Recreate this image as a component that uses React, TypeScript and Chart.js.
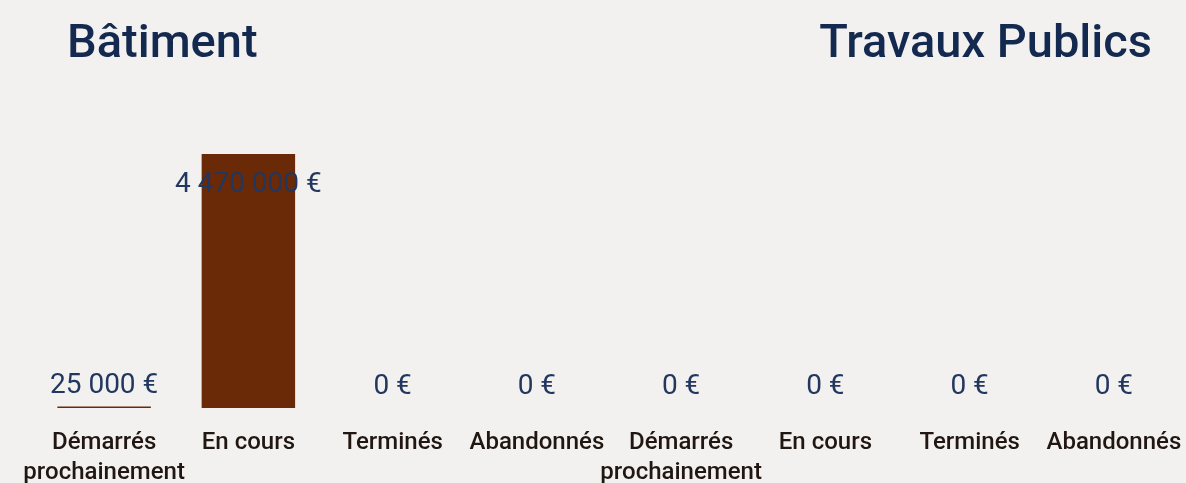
import React, { useEffect, useRef } from 'react';
import { Chart, registerables } from 'chart.js';

Chart.register(...registerables);

const categories: (string | string[])[] = [
  ['Démarrés', 'prochainement'],
  'En cours',
  'Terminés',
  'Abandonnés',
  ['Démarrés', 'prochainement'],
  'En cours',
  'Terminés',
  'Abandonnés',
];
const values = [25000, 4470000, 0, 0, 0, 0, 0, 0];
const groupTitles = ['Bâtiment', 'Travaux Publics'];

const BG = '#f3f1ef';
const BAR = '#6a2a07';
const TITLE = '#14294f';
const VALUE = '#22375f';
const TICK = '#211712';

function fmt(v: number): string {
  const s = Math.round(v).toString();
  const parts: string[] = [];
  for (let i = s.length; i > 0; i -= 3) parts.unshift(s.substring(Math.max(0, i - 3), i));
  return parts.join(' ') + ' €';
}

const decorPlugin = {
  id: 'decor',
  beforeDraw(chart: any) {
    const { ctx, width, height } = chart;
    ctx.save();
    ctx.fillStyle = BG;
    ctx.fillRect(0, 0, width, height);
    ctx.fillStyle = TITLE;
    ctx.font = '500 47px Roboto';
    ctx.textBaseline = 'alphabetic';
    ctx.textAlign = 'left';
    ctx.fillText(groupTitles[0], 67, 57);
    ctx.textAlign = 'right';
    ctx.fillText(groupTitles[1], 1152, 57);
    ctx.restore();
  },
  afterDatasetsDraw(chart: any) {
    const { ctx, chartArea } = chart;
    const meta = chart.getDatasetMeta(0);
    ctx.save();
    ctx.fillStyle = VALUE;
    ctx.font = '400 28px Roboto';
    ctx.textAlign = 'center';
    ctx.textBaseline = 'middle';
    meta.data.forEach((bar: any, i: number) => {
      let y = bar.y - 21;
      if (y < chartArea.top + 10) y = bar.y + 31;
      ctx.fillText(fmt(values[i]), bar.x, y);
    });
    ctx.restore();
  },
};

export default function App() {
  const ref = useRef<HTMLCanvasElement>(null);
  useEffect(() => {
    document.body.style.background = BG;
    if (!ref.current) return;
    const chart = new Chart(ref.current, {
      type: 'bar',
      data: {
        labels: categories,
        datasets: [
          {
            data: values,
            backgroundColor: BAR,
            borderWidth: 0,
            categoryPercentage: 0.8,
            barPercentage: 0.81,
          },
        ],
      },
      options: {
        responsive: true,
        maintainAspectRatio: false,
        animation: false,
        layout: { padding: { left: 32, right: 0, top: 154, bottom: 0 } },
        plugins: {
          legend: { display: false },
          tooltip: { enabled: false },
          title: { display: false },
        },
        scales: {
          x: {
            grid: { display: false, drawTicks: false },
            border: { display: false },
            ticks: {
              color: TICK,
              font: { family: 'Roboto', size: 24, weight: '500', lineHeight: '30px' },
              padding: 20,
              maxRotation: 0,
              autoSkip: false,
            },
            afterFit: (scale: any) => {
              scale.height = 75;
              scale.paddingLeft = 0;
              scale.paddingRight = 0;
            },
          },
          y: {
            display: false,
            min: 0,
            max: Math.max(...values),
          },
        },
      },
      plugins: [decorPlugin],
    });
    return () => chart.destroy();
  }, []);
  return (
    <div style={{ position: 'absolute', left: 0, top: 0, width: 1186, height: 483 }}>
      <canvas ref={ref} />
    </div>
  );
}
